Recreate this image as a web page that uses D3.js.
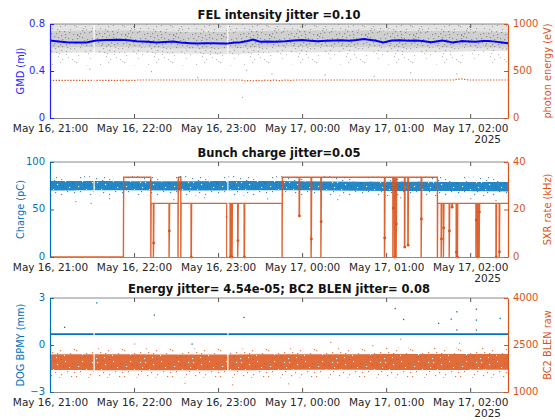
<!DOCTYPE html>
<html>
<head>
<meta charset="utf-8">
<script src="https://cdn.jsdelivr.net/npm/d3@7"></script>
<style>
  body { margin: 0; background: #fff; }
  svg { font-family: "DejaVu Sans", sans-serif; }
</style>
</head>
<body>
<div id="container"></div>
<script>
/* CONSTANTS AND GLOBALS */
const width = 555,
  height = 420,
  left = 50,
  right = 508;

const blue = "#1f1fff",
  mBlue = "#0072bd",
  orange = "#d95319",
  ink = "#262626";

/* DATA  (time = minutes after May 16 2025, 21:00) */
const endMinute = 327;
const gapMinutes = [31.5, 127];

// panel 1 : GMD (mJ), grey cloud + smoothed blue line, photon energy (eV)
const gmdBand = [ // minute, sparse low, core low, dense low, dense high, top
  [0, 0.44, 0.55, 0.6, 0.74, 0.8], [20, 0.45, 0.56, 0.6, 0.74, 0.8], [40, 0.44, 0.55, 0.61, 0.75, 0.8],
  [60, 0.45, 0.56, 0.6, 0.74, 0.8], [80, 0.44, 0.55, 0.6, 0.74, 0.8], [100, 0.45, 0.55, 0.59, 0.73, 0.8],
  [120, 0.44, 0.54, 0.59, 0.73, 0.8], [140, 0.45, 0.55, 0.6, 0.74, 0.8], [160, 0.45, 0.56, 0.6, 0.74, 0.8],
  [180, 0.46, 0.56, 0.61, 0.75, 0.8], [200, 0.45, 0.56, 0.6, 0.74, 0.8], [220, 0.46, 0.57, 0.61, 0.75, 0.8],
  [240, 0.45, 0.56, 0.6, 0.74, 0.8], [260, 0.46, 0.56, 0.6, 0.74, 0.8], [280, 0.45, 0.56, 0.6, 0.74, 0.8],
  [300, 0.46, 0.57, 0.6, 0.74, 0.8], [327, 0.46, 0.57, 0.6, 0.73, 0.8]
];
const gmdOutliers = [[28, 0.42], [72, 0.4], [137, 0.18], [140, 0.41], [158, 0.38], [196, 0.37], [231, 0.36], [257, 0.39], [290, 0.38], [105, 0.35]];
const gmdLine = [
  [0, 0.659], [6, 0.652], [12, 0.645], [18, 0.643], [26, 0.642], [33, 0.659], [40, 0.664], [50, 0.667],
  [56, 0.662], [62, 0.653], [70, 0.648], [76, 0.642], [82, 0.647], [88, 0.65], [93, 0.642], [100, 0.636],
  [105, 0.633], [111, 0.637], [117, 0.636], [122, 0.634], [126, 0.633], [131, 0.64], [136, 0.645], [141, 0.655],
  [145, 0.667], [150, 0.65], [155, 0.652], [161, 0.65], [168, 0.654], [174, 0.66], [180, 0.664], [186, 0.658],
  [191, 0.653], [197, 0.657], [203, 0.66], [208, 0.662], [214, 0.658], [219, 0.664], [224, 0.672], [229, 0.664],
  [232, 0.66], [238, 0.642], [244, 0.66], [250, 0.662], [256, 0.658], [261, 0.66], [266, 0.656], [272, 0.645],
  [276, 0.652], [280, 0.66], [284, 0.652], [287, 0.642], [291, 0.648], [294, 0.655], [299, 0.652], [304, 0.65],
  [309, 0.655], [313, 0.655], [318, 0.65], [323, 0.642], [327, 0.636]
];
const photonEnergy = [
  [0, 400], [30, 400], [61, 400], [62, 404], [100, 404], [136, 404], [138, 398], [140, 392], [142, 400],
  [145, 395], [148, 401], [151, 396], [154, 403], [157, 399], [160, 404], [164, 398], [168, 403], [172, 400],
  [176, 404], [230, 404], [288, 404], [291, 412], [294, 416], [297, 408], [300, 404], [327, 404]
];

// panel 2 : bunch charge (pC) cloud, SXR rate (kHz) steps
const chargeBand = [ // minute, sparse low, core low, core high, sparse high
  [0, 65, 70, 80, 85], [40, 65, 70.5, 80, 85], [80, 65, 70, 79.5, 85], [120, 64.5, 70, 80, 85.5],
  [160, 65, 70.5, 80, 85], [200, 65, 70, 79.5, 85], [240, 64, 69.5, 79, 84.5], [280, 64, 69.5, 79, 84.5],
  [327, 64, 69, 79, 84.5]
];
const chargeOutliers = [[18, 59], [29, 57], [42, 62], [88, 61], [110, 63], [155, 62], [205, 61], [250, 63], [300, 62], [318, 60]];
const sxrLevels = [[0, 0], [52.4, 33.6], [72, 22.6], [91.4, 33.6], [93.4, 22.6], [165.7, 33.6], [276.6, 22.6]];
const sxrDrops = [ // minute, lowest value, sampled dot value
  [73.8, 0, 5.9], [85, 0, 11], [100.7, 0, 0], [126.2, 0, 16.8], [128.6, 0, 0], [129.8, 0, 0],
  [134, 0, 6.9], [138.6, 0, 0], [177.9, 17.3, 17.3], [186.4, 0, 7.6], [193.4, 0, 14.9],
  [238.8, 0, 8], [244.8, 0, 20.6], [246, 0, 0], [247.1, 0, 13.9], [253.1, 4.2, 4.2], [255.5, 5, 5],
  [265, 0, 16], [279.3, 0, 7.6], [280.9, 0, 12.3], [285, 0, 11], [286.9, 21, 21], [290, 0, 2],
  [290.7, 0, 0], [304.1, 0, 15.6], [305.2, 0, 0], [306.4, 0, 19], [318.4, 0, 0], [320.7, 0, 2.2]
];

// panel 3 : DOG BPMY (mm) line + outliers, BC2 BLEN raw cloud
const bpmyLevel = 0.69;
const bpmyOutliers = [[10, 1.17], [33, 2.73], [74, 1.95], [138, 1.8], [101, 0.1], [246, 2.37], [252, 1.67],
  [277, 1.42], [286, 1.69], [290, 2.16], [304, 2.32], [304, 1.63], [321, 1.74], [304, 1.0], [290, 1.0]];
const blenBand = [ // minute, sparse low, core low, core high, sparse high
  [0, 1460, 1700, 2200, 2380], [40, 1450, 1690, 2210, 2400], [80, 1470, 1700, 2200, 2390],
  [120, 1450, 1690, 2190, 2380], [160, 1460, 1700, 2210, 2400], [200, 1470, 1710, 2200, 2390],
  [240, 1460, 1700, 2210, 2410], [280, 1450, 1700, 2220, 2420], [327, 1460, 1710, 2210, 2400]
];
const blenOutliers = [[60, 2550], [130, 1250], [200, 2600], [230, 2500], [250, 2700], [96, 1300], [170, 1280], [292, 2570]];

const titles = ["FEL intensity jitter =0.10", "Bunch charge jitter=0.05", "Energy jitter= 4.54e-05; BC2 BLEN jitter= 0.08"];

/* HELPERS */
const t0 = new Date(2025, 4, 16, 21, 0);
const toDate = m => new Date(t0.getTime() + m * 60000);

const xScale = d3.scaleTime()
  .domain([toDate(0), toDate(endMinute)])
  .range([left, right]);

const svg = d3.select("#container")
  .append("svg")
  .attr("width", width)
  .attr("height", height)
  .style("background-color", "white");

const defs = svg.append("defs");

// hand-placed speckle texture for the dense scatter clouds (24x18 cell, mirrored into a 48x36 tile)
const speck = [[1, 2], [5, 9], [9, 4], [13, 14], [17, 1], [21, 7], [3, 15], [7, 12], [11, 17], [15, 6],
  [19, 11], [23, 16], [2, 6], [6, 0], [10, 10], [14, 3], [18, 15], [22, 12], [4, 4], [8, 16],
  [12, 8], [16, 13], [20, 2], [0, 11], [6, 7], [18, 8], [10, 1], [14, 10]];
const tileDots = n => {
  const s = speck.slice(0, n);
  return s.concat(
    s.map(d => [47 - d[0], (d[1] + 5) % 18]),
    s.map(d => [(d[0] + 7) % 24, 35 - d[1]]),
    s.map(d => [24 + ((d[0] * 7 + 3) % 24), 18 + ((d[1] * 5 + 2) % 18)])
  );
};

function pattern(id, bg, bgOpacity, dot, n, size) {
  const p = defs.append("pattern")
    .attr("id", id)
    .attr("width", 48).attr("height", 36)
    .attr("patternUnits", "userSpaceOnUse");
  if (bg) p.append("rect").attr("width", 48).attr("height", 36).attr("fill", bg).attr("fill-opacity", bgOpacity);
  p.selectAll(".s").data(tileDots(n)).join("rect")
    .attr("x", d => d[0]).attr("y", d => d[1])
    .attr("width", size).attr("height", size)
    .attr("fill", dot);
}
pattern("greyDense", "#cfcfcf", 1, "#8e8e8e", 28, 1.2);
pattern("greyCore", "#e3e3e3", 1, "#a3a3a3", 20, 1.1);
pattern("greySparse", null, 0, "#bdbdbd", 9, 1.1);
pattern("blueCore", mBlue, 0.85, "#ffffff", 7, 1.1);
pattern("blueSparse", null, 0, "#3f8fd0", 14, 1.2);
pattern("orangeCore", orange, 0.85, "#ffffff", 7, 1.1);
pattern("orangeSparse", null, 0, "#e07a4c", 14, 1.2);

function frame(top, bottom, yL, yR, lColor, rColor, lTicks, rTicks, lFmt, lLabel, rLabel, title) {
  const g = svg.append("g");

  // box
  g.append("line").attr("x1", left).attr("x2", right).attr("y1", top).attr("y2", top)
    .attr("stroke", "#8a8a8a").attr("stroke-width", 1);

  const xAxis = d3.axisBottom(xScale)
    .ticks(d3.timeHour.every(1))
    .tickFormat(d3.timeFormat("%b %d, %H:%M"))
    .tickSizeInner(-4).tickSizeOuter(0).tickPadding(6.5);
  const xa = g.append("g").attr("transform", `translate(0,${bottom})`).call(xAxis);
  xa.select(".domain").attr("stroke", "#8a8a8a");
  xa.selectAll(".tick line").attr("stroke", "#555");
  xa.selectAll("text").attr("fill", ink).attr("font-size", 10.5).attr("font-family", "DejaVu Sans")
    .attr("dy", "0.68em");

  const xTop = d3.axisTop(xScale).ticks(d3.timeHour.every(1)).tickFormat("").tickSizeInner(-4).tickSizeOuter(0);
  const xt = g.append("g").attr("transform", `translate(0,${top})`).call(xTop);
  xt.select(".domain").remove();
  xt.selectAll(".tick line").attr("stroke", "#555");

  g.append("text").attr("x", 501).attr("y", bottom + 24.6)
    .attr("text-anchor", "end").attr("font-size", 10.5).attr("fill", ink).text("2025");

  const ya = g.append("g").attr("transform", `translate(${left},0)`)
    .call(d3.axisLeft(yL).tickValues(lTicks).tickFormat(lFmt).tickSizeInner(-4).tickSizeOuter(0).tickPadding(5));
  ya.select(".domain").attr("stroke", lColor).attr("stroke-width", 1.2);
  ya.selectAll(".tick line").attr("stroke", lColor);
  ya.selectAll("text").attr("fill", lColor).attr("font-size", 10).attr("font-family", "DejaVu Sans")
    .attr("dy", "0.24em");

  const yb = g.append("g").attr("transform", `translate(${right},0)`)
    .call(d3.axisRight(yR).tickValues(rTicks).tickFormat(d3.format("d")).tickSizeInner(-4).tickSizeOuter(0).tickPadding(5));
  yb.select(".domain").attr("stroke", rColor).attr("stroke-width", 1.2);
  yb.selectAll(".tick line").attr("stroke", rColor);
  yb.selectAll("text").attr("fill", rColor).attr("font-size", 10).attr("font-family", "DejaVu Sans")
    .attr("dy", "0.24em");

  const mid = (top + bottom) / 2;
  g.append("text").attr("transform", `translate(23.5,${mid}) rotate(-90)`)
    .attr("text-anchor", "middle").attr("font-size", 9.8).attr("fill", lColor).text(lLabel);
  g.append("text").attr("transform", `translate(551,${mid}) rotate(-90)`)
    .attr("text-anchor", "middle").attr("font-size", 9.8).attr("fill", rColor).text(rLabel);

  g.append("text").attr("x", (left + right) / 2).attr("y", top - 5)
    .attr("text-anchor", "middle").attr("font-size", 11.5).attr("font-weight", "bold")
    .attr("fill", "#111").text(title);
}

function gaps(top, bottom) {
  svg.append("g").selectAll("rect").data(gapMinutes).join("rect")
    .attr("x", d => xScale(toDate(d)) - 0.6).attr("width", 1.2)
    .attr("y", top + 1).attr("height", bottom - top - 2)
    .attr("fill", "white");
}

const band = (y, i, j) => d3.area()
  .x(d => xScale(toDate(d[0])))
  .y0(d => y(d[i])).y1(d => y(d[j]))
  .curve(d3.curveBasis);

/* PANEL 1 */
{
  const top = 24, bottom = 118;
  const yL = d3.scaleLinear().domain([0, 0.8]).range([bottom, top]);
  const yR = d3.scaleLinear().domain([0, 1000]).range([bottom, top]);
  const plot = svg.append("g");

  plot.append("path").datum(gmdBand).attr("d", band(yL, 1, 2)).attr("fill", "url(#greySparse)");
  plot.append("path").datum(gmdBand).attr("d", band(yL, 2, 5)).attr("fill", "url(#greyCore)");
  plot.append("path").datum(gmdBand).attr("d", band(yL, 3, 4)).attr("fill", "url(#greyDense)");
  plot.selectAll(".go").data(gmdOutliers).join("rect")
    .attr("x", d => xScale(toDate(d[0]))).attr("y", d => yL(d[1]))
    .attr("width", 1.2).attr("height", 1.2).attr("fill", "#aaa");
  gaps(top, bottom);

  plot.append("path").datum(photonEnergy)
    .attr("d", d3.line().x(d => xScale(toDate(d[0]))).y(d => yR(d[1])))
    .attr("fill", "none").attr("stroke", orange).attr("stroke-width", 1.2)
    .attr("stroke-dasharray", "1.3,1.6");

  svg.append("path").datum(gmdLine)
    .attr("d", d3.line().x(d => xScale(toDate(d[0]))).y(d => yL(d[1])))
    .attr("fill", "none").attr("stroke", "#0000ff").attr("stroke-width", 2);

  frame(top, bottom, yL, yR, blue, orange, [0, 0.4, 0.8], [0, 500, 1000], d => d === 0 ? "0" : d3.format(".1f")(d),
    "GMD (mJ)", "photon energy (eV)", titles[0]);
}

/* PANEL 2 */
{
  const top = 162, bottom = 257;
  const yL = d3.scaleLinear().domain([0, 100]).range([bottom, top]);
  const yR = d3.scaleLinear().domain([0, 40]).range([bottom, top]);
  const plot = svg.append("g");

  plot.append("path").datum(chargeBand).attr("d", band(yL, 1, 4)).attr("fill", "url(#blueSparse)");
  plot.append("path").datum(chargeBand).attr("d", band(yL, 2, 3)).attr("fill", "url(#blueCore)");
  plot.selectAll(".co").data(chargeOutliers).join("rect")
    .attr("x", d => xScale(toDate(d[0]))).attr("y", d => yL(d[1]))
    .attr("width", 1.2).attr("height", 1.2).attr("fill", "#5aa0d8");
  gaps(top, bottom);

  // build the SXR rate trace: level changes pass through 0, drops dip from the current level
  const pts = [];
  const levelAt = m => sxrLevels.filter(l => l[0] <= m).pop()[1];
  const events = sxrLevels.map(l => ({ m: l[0], type: "level", v: l[1] }))
    .concat(sxrDrops.map(d => ({ m: d[0], type: "drop", low: d[1], dot: d[2] })))
    .sort((a, b) => a.m - b.m);
  events.forEach(e => {
    if (e.type === "level") {
      if (e.m > 0) { pts.push([e.m, levelAt(e.m - 0.01)]); pts.push([e.m, 0]); }
      pts.push([e.m + 0.2, e.v]);
    } else {
      const L = levelAt(e.m);
      pts.push([e.m, L], [e.m, e.low], [e.m + 0.2, e.dot], [e.m + 0.4, L]);
    }
  });
  pts.push([endMinute, levelAt(endMinute)]);

  plot.append("path").datum(pts)
    .attr("d", d3.line().x(d => xScale(toDate(d[0]))).y(d => yR(d[1])))
    .attr("fill", "none").attr("stroke", orange).attr("stroke-width", 1.4)
    .attr("stroke-opacity", 0.9);
  plot.selectAll(".sd").data(sxrDrops).join("circle")
    .attr("cx", d => xScale(toDate(d[0] + 0.2))).attr("cy", d => yR(d[2]))
    .attr("r", 1.4).attr("fill", orange);

  frame(top, bottom, yL, yR, mBlue, orange, [0, 50, 100], [0, 20, 40], d3.format("d"),
    "Charge (pC)", "SXR rate (kHz)", titles[1]);
}

/* PANEL 3 */
{
  const top = 298, bottom = 392;
  const yL = d3.scaleLinear().domain([-3, 3]).range([bottom, top]);
  const yR = d3.scaleLinear().domain([1000, 4000]).range([bottom, top]);
  const plot = svg.append("g");

  plot.append("path").datum(blenBand).attr("d", band(yR, 1, 4)).attr("fill", "url(#orangeSparse)");
  plot.append("path").datum(blenBand).attr("d", band(yR, 2, 3)).attr("fill", "url(#orangeCore)");
  plot.selectAll(".bo").data(blenOutliers).join("rect")
    .attr("x", d => xScale(toDate(d[0]))).attr("y", d => yR(d[1]))
    .attr("width", 1.2).attr("height", 1.2).attr("fill", "#e58a60");
  gaps(top, bottom);

  plot.append("line")
    .attr("x1", xScale(toDate(0))).attr("x2", xScale(toDate(endMinute)))
    .attr("y1", yL(bpmyLevel)).attr("y2", yL(bpmyLevel))
    .attr("stroke", mBlue).attr("stroke-width", 1.8);
  plot.selectAll(".po").data(bpmyOutliers).join("rect")
    .attr("x", d => xScale(toDate(d[0]))).attr("y", d => yL(d[1]))
    .attr("width", 1.3).attr("height", 1.3).attr("fill", mBlue);

  frame(top, bottom, yL, yR, mBlue, orange, [-3, 0, 3], [1000, 2500, 4000], d3.format("d"),
    "DOG BPMY (mm)", "BC2 BLEN raw", titles[2]);
}
</script>
</body>
</html>
